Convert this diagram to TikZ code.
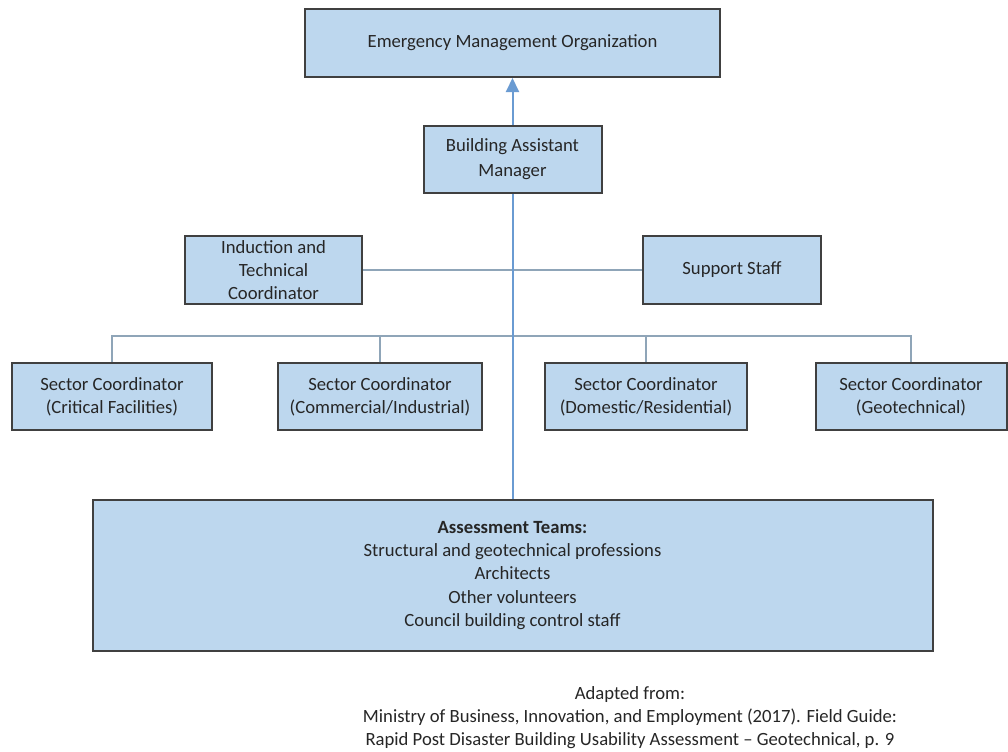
\documentclass[tikz,border=0pt]{standalone}
\usepackage{fontspec}
\setmainfont{Carlito}
\usetikzlibrary{arrows.meta}
\definecolor{boxfill}{HTML}{BDD7EE}
\definecolor{boxline}{HTML}{404040}
\definecolor{blueline}{HTML}{6A9BD2}
\definecolor{grayline}{HTML}{8FA5B8}
\definecolor{txt}{HTML}{262626}
\begin{document}
\begin{tikzpicture}[x=0.75pt,y=-0.75pt,
  box/.style={draw=boxline, line width=1.5pt, fill=boxfill, text=txt, align=center,
    font=\fontsize{14}{17.5}\selectfont, inner sep=0pt},
  link/.style={draw=grayline, line width=1.5pt},
  spine/.style={draw=blueline, line width=1.5pt},
  credit/.style={text=txt, align=center, font=\fontsize{14}{17.25}\selectfont, inner sep=0pt}]
\useasboundingbox[fill=white] (0,0) rectangle (1008,751);

\node[box, minimum width=311.25pt, minimum height=51pt] (emo) at (512.5,43) {Emergency Management Organization};
\node[box, minimum width=133.5pt, minimum height=50.25pt, font=\fontsize{14}{18.75}\selectfont] (bam) at (512.5,159.5) {Building Assistant\\Manager};
\node[box, minimum width=132.75pt, minimum height=51pt] (ind) at (273.5,270) {Induction and\\Technical\\Coordinator};
\node[box, minimum width=133.5pt, minimum height=51pt] (sup) at (732,270) {Support Staff};

\node[box, minimum width=150pt, minimum height=50.25pt] (s1) at (112,396.5) {Sector Coordinator\\(Critical Facilities)};
\node[box, minimum width=153pt, minimum height=50.25pt] (s2) at (380,396.5) {Sector Coordinator\\(Commercial/Industrial)};
\node[box, minimum width=151.5pt, minimum height=50.25pt] (s3) at (646,396.5) {Sector Coordinator\\(Domestic/Residential)};
\node[box, minimum width=143.25pt, minimum height=50.25pt] (s4) at (911,396.5) {Sector Coordinator\\(Geotechnical)};

\node[box, minimum width=630pt, minimum height=113.25pt] (asm) at (512.5,575.5)
  {\textbf{Assessment Teams:}\\Structural and geotechnical professions\\Architects\\Other volunteers\\Council building control staff};

\node[credit] (src) at (630,718) {Adapted from:\\Ministry of Business, Innovation, and Employment (2017). Field Guide:\\Rapid Post Disaster Building Usability Assessment – Geotechnical, p. 9};

% grey connectors
\draw[link] (ind.east) -- (sup.west);
\draw[link] (s1.north) -- ++(0,-26) -| (s4.north);
\draw[link] (s2.north) -- ++(0,-26);
\draw[link] (s3.north) -- ++(0,-26);

% blue spine
\draw[spine] (bam.south) -- (asm.north);
\draw[spine, -{Triangle[width=9.75pt,length=10.5pt]}] (bam.north) -- (emo.south);
\end{tikzpicture}
\end{document}
